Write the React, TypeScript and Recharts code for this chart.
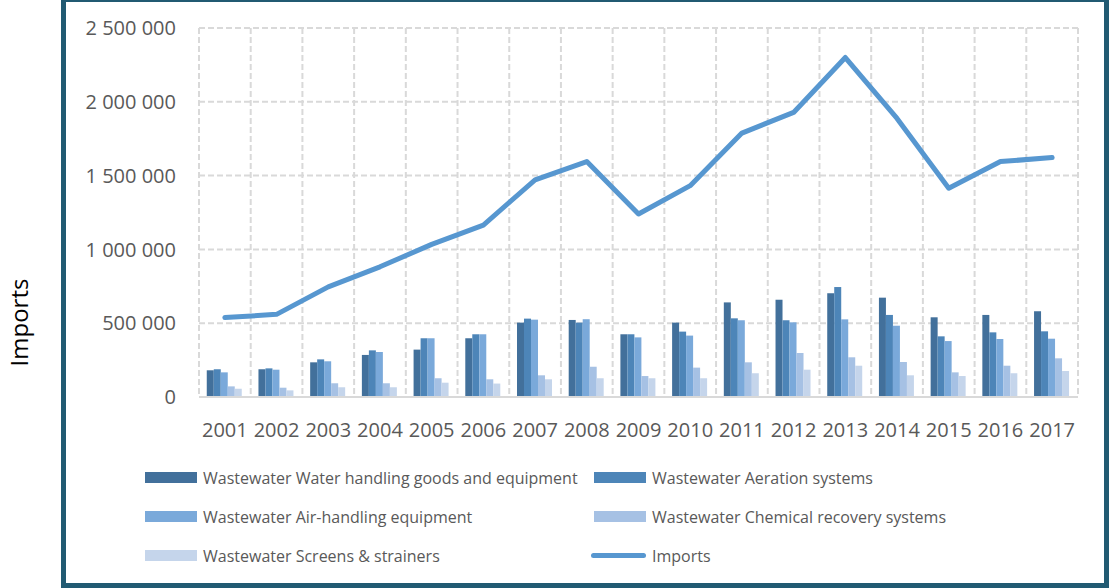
import { Bar, CartesianGrid, ComposedChart, Line, XAxis, YAxis } from "recharts";

const years = ["2001", "2002", "2003", "2004", "2005", "2006", "2007", "2008", "2009", "2010", "2011", "2012", "2013", "2014", "2015", "2016", "2017"];

const waterHandling = [181000, 188000, 235000, 285000, 321000, 398000, 504000, 522000, 425000, 504000, 641000, 659000, 703000, 673000, 540000, 556000, 581000];
const aeration = [188000, 194000, 255000, 316000, 398000, 425000, 531000, 504000, 425000, 443000, 533000, 520000, 745000, 556000, 411000, 438000, 445000];
const airHandling = [167000, 185000, 242000, 305000, 398000, 425000, 524000, 527000, 404000, 416000, 520000, 506000, 526000, 483000, 379000, 393000, 395000];
const chemicalRecovery = [72000, 63000, 93000, 93000, 127000, 120000, 147000, 205000, 142000, 199000, 235000, 298000, 269000, 237000, 167000, 212000, 262000];
const screens = [56000, 45000, 66000, 66000, 97000, 91000, 120000, 127000, 127000, 127000, 161000, 185000, 212000, 147000, 142000, 161000, 176000];
const imports = [538000, 560000, 746000, 882000, 1034000, 1165000, 1471000, 1595000, 1240000, 1432000, 1788000, 1928000, 2300000, 1887000, 1414000, 1595000, 1622000];

const yTicks = [0, 500000, 1000000, 1500000, 2000000, 2500000];

const barSeries = [
  { key: "waterHandling", name: "Wastewater Water handling goods and equipment", color: "#42709b", values: waterHandling },
  { key: "aeration", name: "Wastewater Aeration systems", color: "#4d85b8", values: aeration },
  { key: "airHandling", name: "Wastewater Air-handling equipment", color: "#7aa9da", values: airHandling },
  { key: "chemicalRecovery", name: "Wastewater Chemical recovery systems", color: "#a6c1e4", values: chemicalRecovery },
  { key: "screens", name: "Wastewater Screens & strainers", color: "#c5d5eb", values: screens },
];
const lineColor = "#5797d0";

const data = years.map((year, i) => {
  const row: Record<string, string | number> = { year, imports: imports[i] };
  barSeries.forEach((s) => (row[s.key] = s.values[i]));
  return row;
});

// boundaries between the year bands, for the dashed grid and the small ticks
const bandEdges = [...years.map((_, i) => i), years.length];

const fmt = (v: number) => String(v).replace(/\B(?=(\d{3})+(?!\d))/g, " ");

const font = "'Open Sans', sans-serif";
const gridColor = "#d9d9d9";

const legendItems = [
  ...barSeries.map((s) => ({ name: s.name, color: s.color, line: false })),
  { name: "Imports", color: lineColor, line: true },
];

const Legend = () => (
  <div
    style={{
      position: "absolute",
      left: 145,
      top: 458,
      display: "grid",
      gridTemplateColumns: "449px 449px",
      fontFamily: font,
      fontSize: 16,
      color: "#595959",
    }}
  >
    {legendItems.map((it) => (
      <div key={it.name} style={{ display: "flex", alignItems: "center", height: 39 }}>
        <span
          style={{
            display: "inline-block",
            width: it.line ? 55 : 52,
            marginLeft: it.line ? -3 : 0,
            height: it.line ? 5 : 11,
            borderRadius: it.line ? 3 : 0,
            background: it.color,
            marginRight: 6,
          }}
        />
        <span>{it.name}</span>
      </div>
    ))}
  </div>
);

const YLabel = (props: any) => {
  const vb = props.viewBox;
  const x = vb.x + 18;
  const y = vb.y + vb.height / 2 + 110;
  return (
    <text x={x} y={y} transform={`rotate(-90 ${x} ${y})`} textAnchor="middle" dominantBaseline="central" fontFamily={font} fontSize={24} fill="#000">
      Imports
    </text>
  );
};

// vertical grid at the edges of each year band, not at its centre
const bandGrid = ({ offset }: any) =>
  bandEdges.map((i) => offset.left + (i * offset.width) / years.length);

export default function App() {
  return (
    <div style={{ position: "absolute", left: 0, top: 0, width: 1109, height: 588, background: "#fff" }}>
      <div
        style={{
          position: "absolute",
          left: 61,
          top: -3,
          width: 1048,
          height: 591,
          boxSizing: "border-box",
          border: "5px solid #215a72",
          background: "#fff",
        }}
      />
      <div style={{ position: "absolute", left: 0, top: 0 }}>
        <ComposedChart
          width={1109}
          height={588}
          data={data}
          margin={{ top: 28, right: 31, bottom: 141, left: 0 }}
          barCategoryGap="15%"
          barGap={0}
        >
          <XAxis
            xAxisId="b"
            type="number"
            domain={[0, years.length]}
            ticks={bandEdges}
            interval={0}
            height={0}
            tick={false}
            axisLine={false}
            tickSize={7}
            tickLine={{ stroke: gridColor, strokeWidth: 2 }}
          />
          <XAxis
            xAxisId="a"
            dataKey="year"
            height={50}
            tickSize={0}
            tickMargin={26}
            tickLine={false}
            axisLine={{ stroke: gridColor, strokeWidth: 2 }}
            tick={{ fontFamily: font, fontSize: 20, fill: "#595959" }}
            interval={0}
          />
          <YAxis
            width={199}
            domain={[0, 2500000]}
            ticks={yTicks}
            tickFormatter={fmt}
            axisLine={false}
            tickLine={false}
            tickSize={0}
            tickMargin={23}
            tick={{ fontFamily: font, fontSize: 20, fill: "#595959" }}
            label={<YLabel />}
          />
          <CartesianGrid
            stroke={gridColor}
            strokeWidth={2}
            strokeDasharray="6 3"
            verticalCoordinatesGenerator={bandGrid}
          />
          {barSeries.map((s) => (
            <Bar key={s.key} xAxisId="a" dataKey={s.key} name={s.name} fill={s.color} isAnimationActive={false} />
          ))}
          <Line
            xAxisId="a"
            dataKey="imports"
            name="Imports"
            stroke={lineColor}
            strokeWidth={5}
            strokeLinecap="round"
            strokeLinejoin="round"
            dot={false}
            activeDot={false}
            isAnimationActive={false}
          />
        </ComposedChart>
      </div>
      <Legend />
    </div>
  );
}
